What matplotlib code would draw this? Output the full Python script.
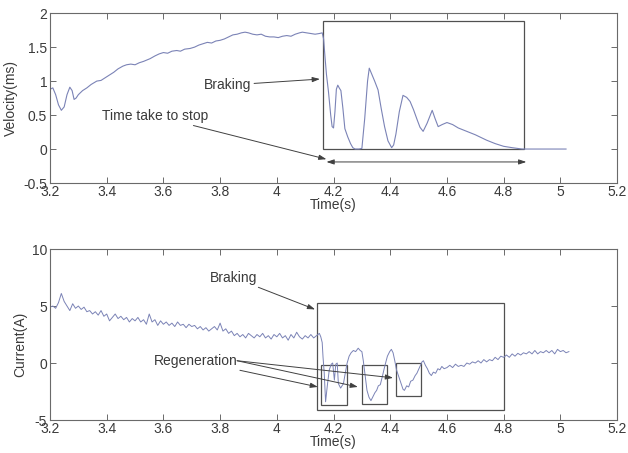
import matplotlib
matplotlib.use("Agg")
import matplotlib.pyplot as plt
from matplotlib.patches import Rectangle

plt.rcParams['font.family'] = ['Liberation Sans', 'DejaVu Sans']

# ---------------- data ----------------
vel_t = [3.200, 3.210, 3.220, 3.230, 3.240, 3.250, 3.260, 3.270, 3.278, 3.285,
         3.292, 3.300, 3.315, 3.330, 3.345, 3.365, 3.380, 3.395, 3.410, 3.425,
         3.440, 3.457, 3.470, 3.485, 3.500, 3.515, 3.530, 3.553, 3.570, 3.585,
         3.600, 3.615, 3.630, 3.647, 3.660, 3.675, 3.694, 3.710, 3.725, 3.740,
         3.755, 3.770, 3.785, 3.800, 3.815, 3.830, 3.845, 3.860, 3.875, 3.888,
         3.900, 3.915, 3.930, 3.945, 3.960, 3.975, 3.990, 4.005, 4.020, 4.035,
         4.050, 4.065, 4.080, 4.090, 4.105, 4.120, 4.135, 4.150, 4.160, 4.165,
         4.170, 4.175, 4.182, 4.190, 4.195, 4.200, 4.205, 4.210, 4.215, 4.220,
         4.226, 4.233, 4.240, 4.250, 4.260, 4.268, 4.276, 4.290, 4.300, 4.310,
         4.320, 4.326, 4.335, 4.345, 4.357, 4.368, 4.380, 4.392, 4.405, 4.412,
         4.420, 4.432, 4.445, 4.458, 4.470, 4.482, 4.495, 4.505, 4.516, 4.530,
         4.548, 4.558, 4.569, 4.583, 4.600, 4.620, 4.640, 4.670, 4.700, 4.740,
         4.770, 4.800, 4.830, 4.865, 4.950, 5.020]
vel_v = [0.88, 0.90, 0.80, 0.65, 0.57, 0.62, 0.80, 0.91, 0.86, 0.73,
         0.75, 0.80, 0.86, 0.90, 0.95, 1.00, 1.01, 1.05, 1.09, 1.13,
         1.18, 1.22, 1.24, 1.25, 1.24, 1.27, 1.29, 1.33, 1.37, 1.40,
         1.42, 1.41, 1.44, 1.45, 1.44, 1.47, 1.48, 1.50, 1.53, 1.55,
         1.57, 1.56, 1.59, 1.60, 1.62, 1.65, 1.68, 1.69, 1.71, 1.72,
         1.71, 1.69, 1.68, 1.69, 1.66, 1.65, 1.65, 1.64, 1.66, 1.67,
         1.66, 1.69, 1.71, 1.72, 1.71, 1.70, 1.69, 1.70, 1.71, 1.62,
         1.35, 1.10, 0.85, 0.50, 0.33, 0.31, 0.55, 0.88, 0.94, 0.90,
         0.86, 0.60, 0.30, 0.18, 0.08, 0.02, 0.00, 0.00, 0.01, 0.45,
         1.00, 1.19, 1.10, 1.00, 0.87, 0.60, 0.33, 0.12, 0.02, 0.06,
         0.22, 0.55, 0.79, 0.76, 0.70, 0.58, 0.43, 0.32, 0.26, 0.38,
         0.57, 0.45, 0.33, 0.36, 0.39, 0.36, 0.31, 0.26, 0.21, 0.13,
         0.08, 0.04, 0.02, 0.00, 0.00, 0.00]

cur_t = [3.20, 3.21, 3.22, 3.23, 3.24, 3.25, 3.26, 3.27, 3.28, 3.29,
         3.30, 3.31, 3.32, 3.33, 3.34, 3.35, 3.36, 3.37, 3.38, 3.39,
         3.40, 3.41, 3.42, 3.43, 3.44, 3.45, 3.46, 3.47, 3.48, 3.49,
         3.50, 3.51, 3.52, 3.53, 3.54, 3.55, 3.56, 3.57, 3.58, 3.59,
         3.60, 3.61, 3.62, 3.63, 3.64, 3.65, 3.66, 3.67, 3.68, 3.69,
         3.70, 3.71, 3.72, 3.73, 3.74, 3.75, 3.76, 3.77, 3.78, 3.79,
         3.80, 3.81, 3.82, 3.83, 3.84, 3.85, 3.86, 3.87, 3.88, 3.89,
         3.90, 3.91, 3.92, 3.93, 3.94, 3.95, 3.96, 3.97, 3.98, 3.99,
         4.00, 4.01, 4.02, 4.03, 4.04, 4.05, 4.06, 4.07, 4.08, 4.09,
         4.10, 4.11, 4.12, 4.13, 4.14, 4.15,
         4.155, 4.160, 4.163, 4.167, 4.172, 4.178, 4.185, 4.192, 4.197, 4.203,
         4.208, 4.213, 4.217, 4.225, 4.235, 4.242, 4.248, 4.255, 4.262, 4.270,
         4.278, 4.287, 4.294, 4.300, 4.305, 4.310, 4.318, 4.325, 4.332, 4.338,
         4.346, 4.352, 4.358, 4.365, 4.372, 4.380, 4.390, 4.398, 4.404, 4.410,
         4.416, 4.422, 4.430, 4.438, 4.445, 4.450, 4.458, 4.465, 4.472, 4.480,
         4.488, 4.494, 4.503, 4.512, 4.517, 4.524, 4.531, 4.538, 4.545, 4.552,
         4.560, 4.568, 4.575, 4.582, 4.590,
         4.60, 4.61, 4.62, 4.63, 4.64, 4.65, 4.66, 4.67, 4.68, 4.69,
         4.70, 4.71, 4.72, 4.73, 4.74, 4.75, 4.76, 4.77, 4.78, 4.79,
         4.80, 4.81, 4.82, 4.83, 4.84, 4.85, 4.86, 4.87, 4.88, 4.89,
         4.90, 4.91, 4.92, 4.93, 4.94, 4.95, 4.96, 4.97, 4.98, 4.99,
         5.00, 5.01, 5.02, 5.03]
cur_a = [4.9, 5.0, 4.8, 5.3, 6.1, 5.4, 5.0, 4.6, 5.2, 4.8,
         5.0, 4.7, 4.9, 4.5, 4.6, 4.3, 4.5, 4.2, 4.6, 4.1,
         4.3, 3.7, 4.0, 4.3, 3.9, 4.1, 3.8, 4.0, 3.6, 3.9,
         3.7, 4.0, 3.6, 3.8, 3.4, 4.3, 3.6, 3.8, 3.3, 3.7,
         3.4, 3.6, 3.3, 3.5, 3.2, 3.6, 3.3, 3.4, 3.1, 3.4,
         3.2, 3.3, 3.0, 3.2, 2.9, 3.1, 2.8, 3.0, 3.2, 2.9,
         3.5, 2.8, 3.0, 2.6, 2.8, 2.4, 2.6, 2.3, 2.5, 2.2,
         2.6, 2.4, 2.2, 2.5, 2.3, 2.6, 2.2, 2.4, 2.1, 2.5,
         2.3, 2.6, 2.2, 2.4, 2.0, 2.5, 2.2, 2.7, 2.3, 2.1,
         2.4, 2.2, 2.5, 2.2, 2.4, 2.6,
         2.3, 1.8, 0.5, -0.8, -3.4, -2.0, -0.6, -0.1, 0.0, -1.5,
         -0.1, 0.0, -1.8, -2.2, -1.8, -0.8, 0.0, 0.6, 0.9, 1.1,
         1.0, 1.3, 1.1, 1.0, 0.2, -0.8, -2.4, -3.0, -3.3, -3.0,
         -2.6, -2.4, -2.0, -1.9, -1.2, -0.35, 0.6, 1.0, 1.2, 0.9,
         0.2, -0.6, -1.2, -1.8, -2.3, -2.4, -2.0, -2.1, -1.6, -1.5,
         -1.1, -0.9, -0.4, 0.1, 0.2, -0.2, -0.5, -0.9, -1.1, -0.8,
         -0.9, -0.5, -0.6, -0.3, -0.5,
         -0.4, -0.2, -0.4, -0.1, -0.3, -0.2, -0.3, 0.0, -0.1, 0.1,
         0.0, 0.2, 0.0, 0.3, 0.1, 0.3, 0.2, 0.5, 0.3, 0.6,
         0.5, 0.7, 0.5, 0.8, 0.6, 0.85, 0.7, 0.9, 0.8, 1.0,
         0.8, 1.1, 0.8, 1.0, 0.9, 1.1, 0.9, 1.1, 0.8, 1.2,
         1.0, 1.1, 0.9, 1.0]

x_ticks = [3.2, 3.4, 3.6, 3.8, 4.0, 4.2, 4.4, 4.6, 4.8, 5.0, 5.2]
x_ticklabels = ['3.2', '3.4', '3.6', '3.8', '4', '4.2', '4.4', '4.6', '4.8', '5', '5.2']
v_ticks = [-0.5, 0, 0.5, 1, 1.5, 2]
v_ticklabels = ['-0.5', '0', '0.5', '1', '1.5', '2']
c_ticks = [-5, 0, 5, 10]
c_ticklabels = ['-5', '0', '5', '10']

# annotation boxes (x0, y0, x1, y1) in data units
v_box = (4.163, 0.0, 4.872, 1.88)
c_box = (4.142, -4.1, 4.800, 5.25)
c_regen_boxes = [(4.155, -3.7, 4.248, -0.15),
                 (4.300, -3.6, 4.390, -0.15),
                 (4.420, -2.9, 4.510, 0.0)]

# ---------------- style ----------------
TRACE = '#7b83b6'
INK = '#3a3a3a'
SPINE = '#6a6a6a'
FS = 10

fig = plt.figure(figsize=(6.28, 4.53), dpi=100)
ax1 = fig.add_axes([0.0796, 0.596, 0.903, 0.375])
ax2 = fig.add_axes([0.0796, 0.0728, 0.903, 0.3775])


def style(ax, yt, ytl, ylim):
    ax.set_xlim(3.2, 5.2)
    ax.set_ylim(*ylim)
    ax.set_xticks(x_ticks)
    ax.set_xticklabels(x_ticklabels)
    ax.set_yticks(yt)
    ax.set_yticklabels(ytl)
    ax.tick_params(direction='in', top=True, right=True, length=4, width=0.7,
                   colors=SPINE, labelcolor=INK, labelsize=FS)
    ax.tick_params(axis='x', pad=1.5)
    ax.tick_params(axis='y', pad=2)
    for s in ax.spines.values():
        s.set_color(SPINE)
        s.set_linewidth(0.8)
    ax.set_xlabel('Time(s)', fontsize=FS, color=INK, labelpad=-1)


style(ax1, v_ticks, v_ticklabels, (-0.5, 2))
style(ax2, c_ticks, c_ticklabels, (-5, 10))

ax1.set_ylabel('Velocity(ms)', fontsize=FS, color=INK)
ax1.yaxis.set_label_coords(-0.057, 0.5)
ax2.set_ylabel('Current(A)', fontsize=FS, color=INK)
ax2.yaxis.set_label_coords(-0.040, 0.44)

ax1.plot(vel_t, vel_v, color=TRACE, lw=0.8)
ax2.plot(cur_t, cur_a, color=TRACE, lw=0.7)

box_kw = dict(fill=False, edgecolor='#505050', lw=0.9)
x0, y0, x1, y1 = v_box
ax1.add_patch(Rectangle((x0, y0), x1 - x0, y1 - y0, **box_kw))
x0, y0, x1, y1 = c_box
ax2.add_patch(Rectangle((x0, y0), x1 - x0, y1 - y0, **box_kw))
for (x0, y0, x1, y1) in c_regen_boxes:
    ax2.add_patch(Rectangle((x0, y0), x1 - x0, y1 - y0, **box_kw))

arrow = dict(arrowstyle='-|>,head_length=0.45,head_width=0.15', color='#404040',
             lw=0.7, shrinkA=0, shrinkB=0)

ax1.annotate('Braking', xy=(4.152, 1.03), xytext=(3.91, 0.94),
             fontsize=FS, color=INK, ha='right', va='center', arrowprops=arrow)
ax1.annotate('Time take to stop', xy=(4.175, -0.15), xytext=(3.757, 0.49),
             fontsize=FS, color=INK, ha='right', va='center', arrowprops=arrow)
ax1.annotate('', xy=(4.88, -0.19), xytext=(4.175, -0.19),
             arrowprops=dict(arrowstyle='<|-|>,head_length=0.45,head_width=0.15',
                             color='#404040', lw=0.7, shrinkA=0, shrinkB=0))

ax2.annotate('Braking', xy=(4.135, 4.7), xytext=(3.93, 7.5),
             fontsize=FS, color=INK, ha='right', va='center', arrowprops=arrow)
regen_targets = [(4.145, -2.1), (4.286, -2.1), (4.41, -1.3)]
for i, tgt in enumerate(regen_targets):
    ax2.annotate('Regeneration' if i == 0 else '', xy=tgt, xytext=(3.86, 0.2),
                 fontsize=FS, color=INK, ha='right', va='center', arrowprops=arrow)

fig.savefig('out.png', dpi=100)
